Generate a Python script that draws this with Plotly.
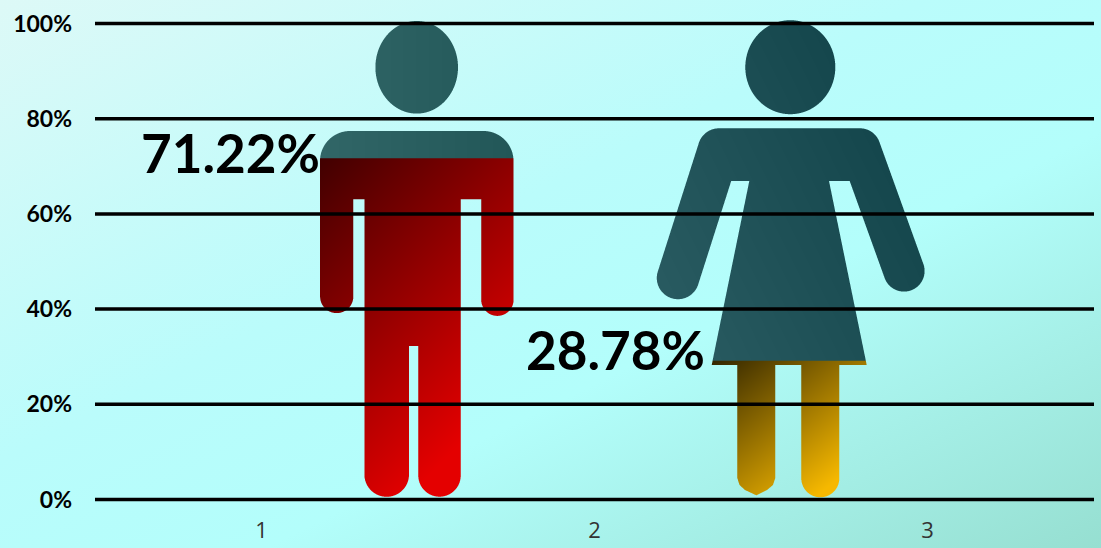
from urllib.parse import quote

import numpy as np
import plotly.graph_objects as go

categories = [1, 2, 3]
percent_ticks = [0, 20, 40, 60, 80, 100]
percent_labels = ["0%", "20%", "40%", "60%", "80%", "100%"]
male_share = 71.22
female_share = 28.78

WIDTH, HEIGHT = 1101, 548
PLOT_LEFT, PLOT_RIGHT = 95, 1094
ZERO_Y, PX_PER_PCT = 499.5, 4.76
PX_PER_CAT = (PLOT_RIGHT - PLOT_LEFT) / 3
MARGIN_T, MARGIN_B = 19, 44
PLOT_H = HEIGHT - MARGIN_T - MARGIN_B
Y_MIN = (ZERO_Y - (HEIGHT - MARGIN_B)) / PX_PER_PCT
Y_MAX = (ZERO_Y - MARGIN_T) / PX_PER_PCT
SS = 4  # supersampling for the glyph edges


def capsule(x, y, ax, ay, bx, by, r):
    dx, dy = bx - ax, by - ay
    t = np.clip(((x - ax) * dx + (y - ay) * dy) / max(dx * dx + dy * dy, 1e-9), 0, 1)
    return (x - ax - t * dx) ** 2 + (y - ay - t * dy) ** 2 <= r * r


def ellipse(x, y, cx, cy, rx, ry):
    return ((x - cx) / rx) ** 2 + ((y - cy) / ry) ** 2 <= 1


def box(x, y, x0, x1, y0, y1):
    return (x >= x0) & (x <= x1) & (y >= y0) & (y <= y1)


def polygon(x, y, pts):
    inside = np.zeros(x.shape, dtype=bool)
    for (x0, y0), (x1, y1) in zip(pts, pts[1:] + pts[:1]):
        crosses = (y0 > y) != (y1 > y)
        with np.errstate(divide="ignore", invalid="ignore"):
            inside ^= crosses & (x < (x1 - x0) * (y - y0) / (y1 - y0) + x0)
    return inside


def male_mask(x, y):
    m = ellipse(x, y, 416.7, 67.3, 41.3, 46.3)
    m |= box(x, y, 350, 483, 131, 199.3)
    m |= box(x, y, 320, 513.5, 161, 199.3)
    m |= capsule(x, y, 350, 161, 350, 161, 30) | capsule(x, y, 483.5, 161, 483.5, 161, 30)
    m |= capsule(x, y, 336.7, 190, 336.7, 296.5, 16.6)
    m |= capsule(x, y, 497.4, 190, 497.4, 299.7, 16.2)
    m |= box(x, y, 364.5, 460.7, 190, 346)
    m |= capsule(x, y, 386.7, 340, 386.7, 474.5, 22.3)
    m |= capsule(x, y, 439.5, 340, 439.5, 475.5, 21.2)
    return m


def female_mask(x, y):
    m = ellipse(x, y, 790.3, 67.2, 45, 47)
    m |= box(x, y, 719, 860, 128.3, 181)
    m |= capsule(x, y, 719, 149.5, 678, 278, 21.2)
    m |= capsule(x, y, 860, 148.9, 904, 271, 20.6)
    m |= polygon(x, y, [(749.3, 181), (829, 181), (866.7, 365), (711.7, 365)])
    m |= polygon(x, y, [(737.3, 364), (775.3, 364), (775.3, 478), (773, 485), (767, 490),
                        (756.3, 495.3), (745, 490), (739.5, 485), (737.3, 478)])
    m |= capsule(x, y, 820.3, 360, 820.3, 478.3, 19)
    return m


def male_colors(x, y, split):
    t = 50 - 0.078 * (x - 320)
    top = np.stack([t - 1, t + 52, t + 53], -1)
    r = np.clip(65 + 0.39 * (x - 320) + 0.38 * (y - 159), 50, 228)
    low = np.stack([r, 0 * r, 0 * r], -1)
    return np.where((y < split)[..., None], top, low)


def female_colors(x, y, split):
    g = 90 - 0.067 * (x - 660) + 0.033 * (y - 280)
    top = np.stack([g - 50, g, g + 6], -1)
    r = np.clip(50 + 0.71 * (x - 712) + 0.9 * (y - 361), 45, 246)
    low = np.stack([r, 0.75 * r, 0 * r], -1)
    return np.where((y < split)[..., None], top, low)


def glyph_trace(share, mask_fn, color_fn, x0, x1, y0, y1):
    # glyph spans 21..498 px from empty to full, filled from the feet up
    split = 498 - share / 100 * 477
    xs = (np.arange((x1 - x0) * SS) + 0.5) / SS + x0
    ys = (np.arange((y1 - y0) * SS) + 0.5) / SS + y0
    x, y = np.meshgrid(xs, ys)
    mask = mask_fn(x, y)
    rgb = color_fn(x, y, split) * mask[..., None]
    h, w = y1 - y0, x1 - x0
    alpha = mask.reshape(h, SS, w, SS).mean(axis=(1, 3))
    summed = rgb.reshape(h, SS, w, SS, 3).mean(axis=(1, 3))
    colors = summed / np.maximum(alpha, 1e-6)[..., None]
    z = np.dstack([np.round(colors), np.round(alpha, 3)])
    return go.Image(
        z=z.tolist(),
        colormodel="rgba",
        x0=0.5 + (x0 + 0.5 - PLOT_LEFT) / PX_PER_CAT,
        dx=1 / PX_PER_CAT,
        y0=-(ZERO_Y - (y0 + 0.5)) / PX_PER_PCT,
        dy=1 / PX_PER_PCT,
        yaxis="y2",
        hoverinfo="skip",
    )


fig = go.Figure()
fig.add_trace(glyph_trace(male_share, male_mask, male_colors, 316, 518, 19, 504))
fig.add_trace(glyph_trace(female_share, female_mask, female_colors, 652, 930, 19, 504))

background = (
    "<svg xmlns='http://www.w3.org/2000/svg' width='1101' height='548'>"
    "<defs><linearGradient id='g' x1='0' y1='0' x2='1' y2='1'>"
    "<stop offset='0' stop-color='#ddf9f7'/>"
    "<stop offset='0.42' stop-color='#bafcfb'/>"
    "<stop offset='0.62' stop-color='#b3fefb'/>"
    "<stop offset='1' stop-color='#96dfd1'/>"
    "</linearGradient></defs><rect width='1101' height='548' fill='url(#g)'/></svg>"
)

fig.update_layout(
    width=WIDTH,
    height=HEIGHT,
    margin=dict(l=PLOT_LEFT, r=WIDTH - PLOT_RIGHT, t=MARGIN_T, b=MARGIN_B, pad=0),
    paper_bgcolor="#b9fcfb",
    plot_bgcolor="rgba(0,0,0,0)",
    showlegend=False,
    xaxis=dict(
        range=[0.5, 3.5],
        tickmode="array",
        tickvals=categories,
        ticktext=[str(c) for c in categories],
        showgrid=False,
        zeroline=False,
        showline=False,
        ticks="",
        automargin=False,
        ticklabelstandoff=11,
        constrain="range",
        tickfont=dict(family="Open Sans", size=22, color="#333333"),
    ),
    yaxis=dict(
        range=[Y_MIN, Y_MAX],
        tickmode="array",
        tickvals=percent_ticks,
        ticktext=percent_labels,
        showgrid=False,
        zeroline=False,
        showline=False,
        ticks="",
        automargin=False,
        ticklabelstandoff=22,
        scaleanchor=False,
        constrain="range",
        tickfont=dict(family="Lato", size=23, color="black", weight="bold"),
    ),
    # images sit on a hidden top-down axis: minus the percent value
    yaxis2=dict(range=[-Y_MIN, -Y_MAX], overlaying="y", visible=False, scaleanchor=False, constrain="range"),
    images=[dict(
        source="data:image/svg+xml," + quote(background),
        xref="paper", yref="paper",
        # paper-anchored, so scaled up to cover the margins too
        x=-PLOT_LEFT / (PLOT_RIGHT - PLOT_LEFT),
        y=1 + MARGIN_T / PLOT_H,
        sizex=WIDTH / (PLOT_RIGHT - PLOT_LEFT),
        sizey=HEIGHT / PLOT_H,
        xanchor="left", yanchor="top", sizing="stretch", layer="below",
    )],
)

# the rules run over the figures
for tick in percent_ticks:
    fig.add_shape(type="line", xref="paper", yref="y", x0=0, x1=1, y0=tick, y1=tick,
                  line=dict(color="black", width=3.5), layer="above")

label_font = dict(family="Lato", size=53, color="black", weight="bold")
fig.add_annotation(x=1.182, y=male_share, xref="x", yref="y", text=f"{male_share}%", showarrow=False,
                   font=label_font, xanchor="right", yshift=8)
fig.add_annotation(x=2.338, y=female_share, xref="x", yref="y", text=f"{female_share}%", showarrow=False,
                   font=label_font, xanchor="right", yshift=13)

fig.write_html("out.html", config={"displayModeBar": False},
               post_script="document.body.style.margin = '0';")
